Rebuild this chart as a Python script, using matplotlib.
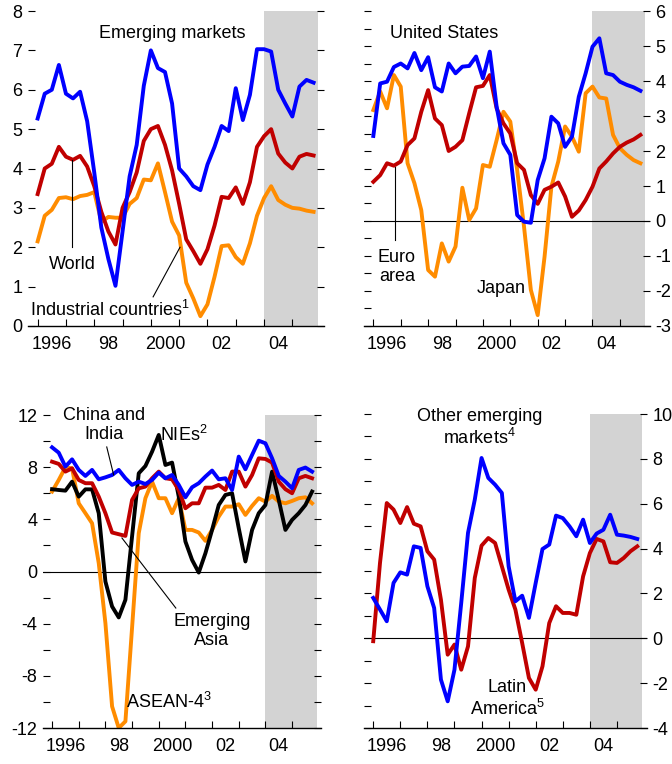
import numpy as np
import matplotlib
matplotlib.use("Agg")
import matplotlib.pyplot as plt
from matplotlib.ticker import MultipleLocator, FixedLocator

plt.rcParams['font.family'] = ['Liberation Sans Narrow', 'Liberation Sans', 'DejaVu Sans']
plt.rcParams['mathtext.fontset'] = 'custom'
plt.rcParams['mathtext.rm'] = 'Liberation Sans'
plt.rcParams['mathtext.it'] = 'Liberation Sans'
plt.rcParams['axes.unicode_minus'] = False

# quarterly positions, 1996Q1 .. 2005Q4
quarters = 1996 + np.arange(40) / 4.0

# ---- top left: emerging markets / world / industrial ----
em_markets = [5.27, 5.9, 6.0, 6.63, 5.9, 5.78, 5.95, 5.2, 3.9, 2.5,
              1.7, 1.02, 2.4, 3.8, 4.6, 6.1, 7.0, 6.55, 6.45, 5.65,
              4.0, 3.8, 3.55, 3.45, 4.1, 4.55, 5.08, 4.95, 6.04, 5.23,
              5.87, 7.03, 7.03, 6.97, 6.0, 5.65, 5.32, 6.08, 6.25, 6.18]
world = [3.35, 4.0, 4.12, 4.55, 4.3, 4.22, 4.32, 4.05, 3.55, 2.9,
         2.4, 2.07, 3.0, 3.4, 3.9, 4.7, 5.0, 5.08, 4.6, 3.95,
         3.1, 2.2, 1.9, 1.58, 1.95, 2.55, 3.28, 3.25, 3.52, 3.1,
         3.65, 4.55, 4.82, 5.0, 4.38, 4.15, 4.0, 4.3, 4.37, 4.33]
industrial = [2.15, 2.8, 2.95, 3.25, 3.27, 3.22, 3.3, 3.33, 3.4, 2.65,
              2.77, 2.75, 2.75, 3.1, 3.25, 3.72, 3.7, 4.13, 3.4, 2.65,
              2.3, 1.1, 0.7, 0.25, 0.55, 1.25, 2.03, 2.05, 1.75, 1.58,
              2.1, 2.8, 3.25, 3.55, 3.2, 3.08, 3.0, 2.98, 2.93, 2.9]

# ---- top right: US / euro area / Japan ----
us = [2.43, 3.93, 3.98, 4.4, 4.5, 4.36, 4.8, 4.31, 4.68, 3.82,
      3.7, 4.5, 4.22, 4.41, 4.43, 4.7, 4.08, 4.84, 3.27, 2.22,
      1.89, 0.17, -0.02, -0.05, 1.17, 1.79, 2.98, 2.79, 2.12, 2.41,
      3.55, 4.22, 4.98, 5.22, 4.22, 4.17, 3.98, 3.89, 3.82, 3.72]
euro = [1.12, 1.31, 1.65, 1.58, 1.7, 2.17, 2.36, 3.12, 3.74, 2.93,
        2.74, 2.0, 2.12, 2.31, 3.08, 3.82, 3.86, 4.17, 3.22, 2.79,
        2.5, 1.65, 1.46, 0.74, 0.49, 0.89, 0.98, 1.1, 0.7, 0.12,
        0.3, 0.6, 0.98, 1.5, 1.7, 1.93, 2.12, 2.24, 2.33, 2.46]
japan = [3.17, 3.7, 3.22, 4.17, 3.84, 1.65, 1.08, 0.31, -1.4, -1.59,
         -0.64, -1.16, -0.73, 0.95, 0.03, 0.36, 1.6, 1.55, 2.31, 3.12,
         2.84, 1.46, -0.16, -1.97, -2.69, -1.02, 0.98, 1.7, 2.7, 2.41,
         1.98, 3.65, 3.84, 3.53, 3.5, 2.46, 2.08, 1.89, 1.74, 1.65]

# ---- bottom left: emerging Asia ----
china_india = [9.52, 9.11, 8.04, 8.6, 7.79, 7.33, 7.79, 7.07, 7.22, 7.4,
               7.79, 7.15, 6.64, 6.89, 6.71, 7.02, 7.58, 7.15, 7.4, 6.64,
               5.69, 6.46, 6.77, 7.28, 7.74, 7.07, 7.15, 6.25, 8.81, 7.84,
               8.94, 10.03, 9.83, 8.68, 7.33, 6.89, 6.38, 7.79, 7.97, 7.66]
em_asia = [8.42, 8.25, 7.66, 7.91, 7.02, 6.77, 6.77, 5.74, 4.47, 2.99,
           2.86, 2.73, 5.49, 6.38, 6.51, 7.15, 7.66, 7.15, 7.07, 6.25,
           4.85, 5.23, 5.23, 6.43, 6.43, 6.64, 6.25, 7.66, 7.66, 6.51,
           7.4, 8.68, 8.63, 8.35, 6.89, 6.31, 6.0, 7.15, 7.33, 7.15]
nies = [6.31, 6.25, 6.2, 6.89, 5.74, 6.3, 6.3, 4.47, -0.77, -2.68,
        -3.52, -2.17, 2.7, 7.53, 8.09, 9.19, 10.47, 8.17, 8.35, 5.74,
        2.3, 0.89, -0.08, 1.4, 3.19, 5.1, 5.87, 6.0, 3.32, 0.77,
        3.19, 4.47, 5.1, 7.66, 5.49, 3.19, 3.96, 4.47, 5.1, 6.13]
asean4 = [6.13, 7.02, 7.99, 7.91, 5.23, 4.47, 3.7, 0.64, -3.96, -10.34,
          -12.0, -11.49, -4.3, 2.94, 5.62, 6.89, 5.62, 5.62, 4.47, 5.62,
          3.19, 3.19, 2.99, 2.35, 3.19, 4.21, 4.98, 4.98, 5.16, 4.34,
          5.03, 5.62, 5.36, 5.8, 5.36, 5.23, 5.41, 5.62, 5.69, 5.23]

# ---- bottom right: other emerging / Latin America ----
other_em = [1.8, 1.28, 0.76, 2.47, 2.94, 2.84, 4.1, 4.03, 2.32, 1.35,
            -1.84, -2.81, -1.4, 1.58, 4.7, 6.18, 8.04, 7.15, 6.85, 6.48,
            3.21, 1.65, 1.9, 0.91, 2.47, 3.98, 4.18, 5.47, 5.36, 4.99,
            4.55, 5.29, 4.25, 4.67, 4.84, 5.51, 4.62, 4.58, 4.52, 4.43]
latin_am = [-0.13, 3.36, 6.03, 5.74, 5.14, 5.85, 5.11, 4.99, 3.88, 3.51,
            1.72, -0.73, -0.28, -1.4, -0.36, 2.69, 4.13, 4.47, 4.25, 3.21,
            2.17, 1.28, -0.21, -1.77, -2.29, -1.25, 0.68, 1.43, 1.13, 1.13,
            1.05, 2.76, 3.8, 4.43, 4.32, 3.39, 3.36, 3.58, 3.88, 4.1]

year_ticks = list(range(1996, 2006))
year_labels = ['1996', '98', '2000', '02', '04']
year_label_pos = [1996.5, 1998.5, 2000.5, 2002.5, 2004.5]

BLUE = '#0000ff'
RED = '#c00000'
ORANGE = '#ff8c00'
SHADE = '#d3d3d3'
LW = 2.8
FS = 13


def setup_axes(ax, ylim, major, minor, side):
    """common styling: shaded forecast, year ticks, no side spines"""
    ax.set_xlim(1995.66, 2006.1)
    ax.set_ylim(*ylim)
    ax.axvspan(2004, 2005.92, color=SHADE, lw=0, zorder=0)
    for s in ['top', 'left', 'right']:
        ax.spines[s].set_visible(False)
    ax.spines['bottom'].set_linewidth(1.0)
    ax.xaxis.set_major_locator(FixedLocator(year_ticks))
    ax.xaxis.set_minor_locator(FixedLocator(year_label_pos))
    ax.set_xticklabels([], minor=False)
    ax.set_xticklabels(year_labels, minor=True)
    ax.tick_params(axis='x', which='major', direction='in', length=5, width=0.8)
    ax.tick_params(axis='x', which='minor', length=0, labelsize=FS, pad=7)
    ax.yaxis.set_major_locator(MultipleLocator(major))
    ax.yaxis.set_minor_locator(MultipleLocator(minor))
    ax.tick_params(axis='y', which='both', direction='in', length=5, width=0.8,
                   left=True, right=True, labelsize=FS, pad=4,
                   labelleft=(side == 'left'), labelright=(side == 'right'))
    if ylim[0] < 0:
        ax.axhline(0, color='black', lw=0.8, zorder=1)


fig = plt.figure(figsize=(6.72, 7.64), dpi=100)

# top left
ax1 = fig.add_axes([0.0417, 0.5733, 0.4397, 0.4123])
setup_axes(ax1, (0, 8), 1, 1, 'left')
ax1.plot(quarters, industrial, color=ORANGE, lw=LW)
ax1.plot(quarters, world, color=RED, lw=LW)
ax1.plot(quarters, em_markets, color=BLUE, lw=LW)
ax1.text(2000.75, 7.44, 'Emerging markets', ha='center', va='center', fontsize=FS)
ax1.text(1997.21, 1.55, 'World', ha='center', va='center', fontsize=FS)
ax1.plot([1997.21, 1997.21], [4.22, 2.0], color='black', lw=0.8)
ax1.text(1995.73, 0.41, 'Industrial countries$^{1}$', ha='left', va='center', fontsize=FS)
ax1.plot([2001.03, 2000.08], [2.0, 0.74], color='black', lw=0.8)

# top right
ax2 = fig.add_axes([0.5417, 0.5733, 0.4256, 0.4123])
setup_axes(ax2, (-3, 6), 1, 0.5, 'right')
ax2.tick_params(axis='y', which='minor', right=False)
ax2.plot(quarters, japan, color=ORANGE, lw=LW)
ax2.plot(quarters, euro, color=RED, lw=LW)
ax2.plot(quarters, us, color=BLUE, lw=LW)
ax2.text(1998.57, 5.37, 'United States', ha='center', va='center', fontsize=FS)
ax2.text(1996.86, -1.31, 'Euro\narea', ha='center', va='center', fontsize=FS)
ax2.plot([1996.78, 1996.78], [1.54, -0.54], color='black', lw=0.8)
ax2.text(2000.65, -1.94, 'Japan', ha='center', va='center', fontsize=FS)

# bottom left
ax3 = fig.add_axes([0.064, 0.0471, 0.4143, 0.4097])
setup_axes(ax3, (-12, 12), 4, 2, 'left')
ax3.plot(quarters, asean4, color=ORANGE, lw=LW)
ax3.plot(quarters, nies, color='black', lw=LW)
ax3.plot(quarters, em_asia, color=RED, lw=LW)
ax3.plot(quarters, china_india, color=BLUE, lw=LW)
ax3.text(1997.94, 11.23, 'China and\nIndia', ha='center', va='center', fontsize=FS)
ax3.plot([1998.05, 1998.31], [9.55, 7.4], color='black', lw=0.8)
ax3.text(2000.94, 10.47, 'NIEs$^{2}$', ha='center', va='center', fontsize=FS)
ax3.text(2001.99, -4.56, 'Emerging\nAsia', ha='center', va='center', fontsize=FS)
ax3.plot([2000.64, 1998.62], [-2.8, 2.57], color='black', lw=0.8)
ax3.text(2000.38, -10.0, 'ASEAN-4$^{3}$', ha='center', va='center', fontsize=FS)

# bottom right
ax4 = fig.add_axes([0.5417, 0.0471, 0.4207, 0.411])
setup_axes(ax4, (-4, 10), 2, 1, 'right')
ax4.tick_params(axis='y', which='minor', right=False)
ax4.plot(quarters, latin_am, color=RED, lw=LW)
ax4.plot(quarters, other_em, color=BLUE, lw=LW)
ax4.text(1999.93, 9.38, 'Other emerging\nmarkets$^{4}$', ha='center', va='center', fontsize=FS)
ax4.text(2000.96, -2.71, 'Latin\nAmerica$^{5}$', ha='center', va='center', fontsize=FS)

fig.savefig('out.png', dpi=100)
